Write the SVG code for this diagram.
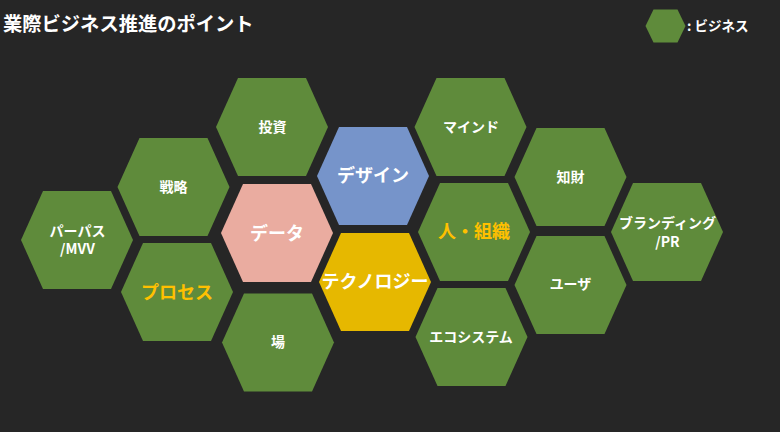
<svg xmlns="http://www.w3.org/2000/svg" xmlns:xlink="http://www.w3.org/1999/xlink" width="780" height="432" viewBox="0 0 780 432">
<style>
.bg{fill:#262626}
.g{fill:#5F8B3B}
.pink{fill:#EAACA0}
.blue{fill:#7694CA}
.yel{fill:#E6B800}
text{font-family:"Noto Sans CJK JP","Noto Sans",sans-serif;font-weight:bold;text-anchor:middle;fill:#FFFFFF}
.s{font-size:14px}
.b{font-size:18px}
.y{fill:#FFC000}
.title{font-size:19.3px;text-anchor:start}
.leg{font-size:13.5px;text-anchor:start}
</style>
<defs>
<polygon id="hex" points="-56,0 -34,-49 34,-49 56,0 34,49 -34,49"/>
</defs>
<rect class="bg" x="0" y="0" width="780" height="432"/>
<text class="title" x="3" y="31">業際ビジネス推進のポイント</text>
<g id="legend">
<polygon class="g" points="645.5,26 653.5,9.5 677.5,9.5 685.5,26 677.5,42.5 653.5,42.5"/>
<text class="leg" x="687" y="31">: ビジネス</text>
</g>
<g id="connectors"/>
<g id="n-purpose"><use xlink:href="#hex" class="g" x="77" y="240"/><text class="s" x="77.5" y="235.5">パーパス</text><text class="s" x="77.5" y="254">/MVV</text></g>
<g id="n-strategy"><use xlink:href="#hex" class="g" x="173.5" y="187"/><text class="s" x="173.5" y="192">戦略</text></g>
<g id="n-process"><use xlink:href="#hex" class="g" x="177" y="292"/><text class="b y" x="177" y="298.5">プロセス</text></g>
<g id="n-invest"><use xlink:href="#hex" class="g" x="272" y="127"/><text class="s" x="272.5" y="132">投資</text></g>
<g id="n-data"><use xlink:href="#hex" class="pink" x="277" y="233"/><text class="b" x="277" y="239.5">データ</text></g>
<g id="n-place"><use xlink:href="#hex" class="g" x="278" y="342.5"/><text class="s" x="278" y="347">場</text></g>
<g id="n-design"><use xlink:href="#hex" class="blue" x="373" y="176"/><text class="b" x="373" y="182">デザイン</text></g>
<g id="n-tech"><use xlink:href="#hex" class="yel" x="375" y="282"/><text class="b" x="375" y="287.5">テクノロジー</text></g>
<g id="n-mind"><use xlink:href="#hex" class="g" x="470.5" y="127"/><text class="s" x="471" y="132">マインド</text></g>
<g id="n-people"><use xlink:href="#hex" class="g" x="474" y="232"/><text class="b y" x="474" y="238">人・組織</text></g>
<g id="n-eco"><use xlink:href="#hex" class="g" x="471.5" y="337"/><text class="s" x="471" y="341.5">エコシステム</text></g>
<g id="n-ip"><use xlink:href="#hex" class="g" x="570.5" y="177"/><text class="s" x="570.5" y="182">知財</text></g>
<g id="n-user"><use xlink:href="#hex" class="g" x="570.5" y="285"/><text class="s" x="570.5" y="289">ユーザ</text></g>
<g id="n-brand"><use xlink:href="#hex" class="g" x="667" y="232"/><text class="s" x="667.5" y="228">ブランディング</text><text class="s" x="667.5" y="246.5">/PR</text></g>
</svg>
